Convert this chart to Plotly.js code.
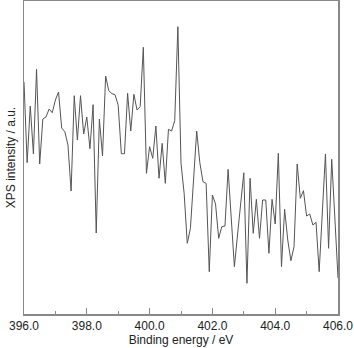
<!DOCTYPE html>
<html>
<head>
<meta charset="utf-8">
<script src="https://cdn.plot.ly/plotly-3.0.1.min.js"></script>
<style>html,body{margin:0;padding:0;background:#fff;}#chart{width:354px;height:348px;}</style>
</head>
<body>
<div id="chart"></div>
<script>
// Binding energy start / step (eV) and measured intensities (a.u.)
const energyStart = 396.0;
const energyStep = 0.1;
const intensity = [
  232, 151.3, 208, 160, 244.7, 150, 195, 197, 205, 201.3,
  214, 222, 186, 182.3, 169, 123, 218.3, 174, 218.3, 180,
  197, 165.3, 209.3, 81, 195, 158, 238, 223.3, 220.3, 219.3,
  208.7, 160.3, 160.3, 220.7, 183, 219.7, 204, 207.3, 266.7, 140.7,
  167.3, 155.7, 188, 135.7, 170.7, 130.7, 184.7, 183, 193.3, 287.3,
  150.7, 120.7, 70.7, 85.7, 134, 183, 151.3, 132.3, 130.7, 42.3,
  119, 110, 75.7, 87.3, 88, 144.7, 96, 47.3, 79, 110,
  141.3, 30.7, 135.7, 80.7, 114.7, 75.7, 114, 114, 60.7, 114.7,
  90, 160.7, 47.3, 104.7, 74, 53.3, 67.3, 150, 115.7, 123.3,
  98, 100, 89, 91.7, 42.3, 101, 160, 65.7, 154.7, 96, 36
];
const energy = intensity.map((_, i) => +(energyStart + i * energyStep).toFixed(1));
const xTickVals = [396, 398, 400, 402, 404, 406];

const trace = {
  x: energy, y: intensity, type: 'scatter', mode: 'lines',
  line: {color: '#555555', width: 1}, hoverinfo: 'skip'
};
const layout = {
  width: 354, height: 348,
  margin: {l: 24, r: 16, t: 1, b: 34},
  paper_bgcolor: '#fff', plot_bgcolor: '#fff',
  font: {family: 'Liberation Sans, Arial, sans-serif', size: 12, color: '#222'},
  showlegend: false,
  xaxis: {
    range: [396, 406], tickvals: xTickVals, tickformat: '.1f',
    ticks: 'inside', ticklen: 6, tickwidth: 1, tickcolor: '#888',
    minor: {dtick: 1, tick0: 396, ticks: 'inside', ticklen: 3, tickcolor: '#888', showgrid: false},
    showline: true, linecolor: '#888', linewidth: 1.5, mirror: true,
    showgrid: false, zeroline: false,
    tickfont: {size: 12, color: '#222'},
    title: {text: 'Binding energy / eV', font: {size: 12, color: '#222'}, standoff: 2},
    automargin: false
  },
  yaxis: {
    range: [0, 313], showticklabels: false, ticks: '',
    showline: true, linecolor: '#888', linewidth: 1.5, mirror: true,
    showgrid: false, zeroline: false,
    title: {text: 'XPS intensity / a.u.', font: {size: 12, color: '#222'}, standoff: 4},
    automargin: false
  }
};
Plotly.newPlot('chart', [trace], layout, {staticPlot: true, displayModeBar: false});
</script>
</body>
</html>
